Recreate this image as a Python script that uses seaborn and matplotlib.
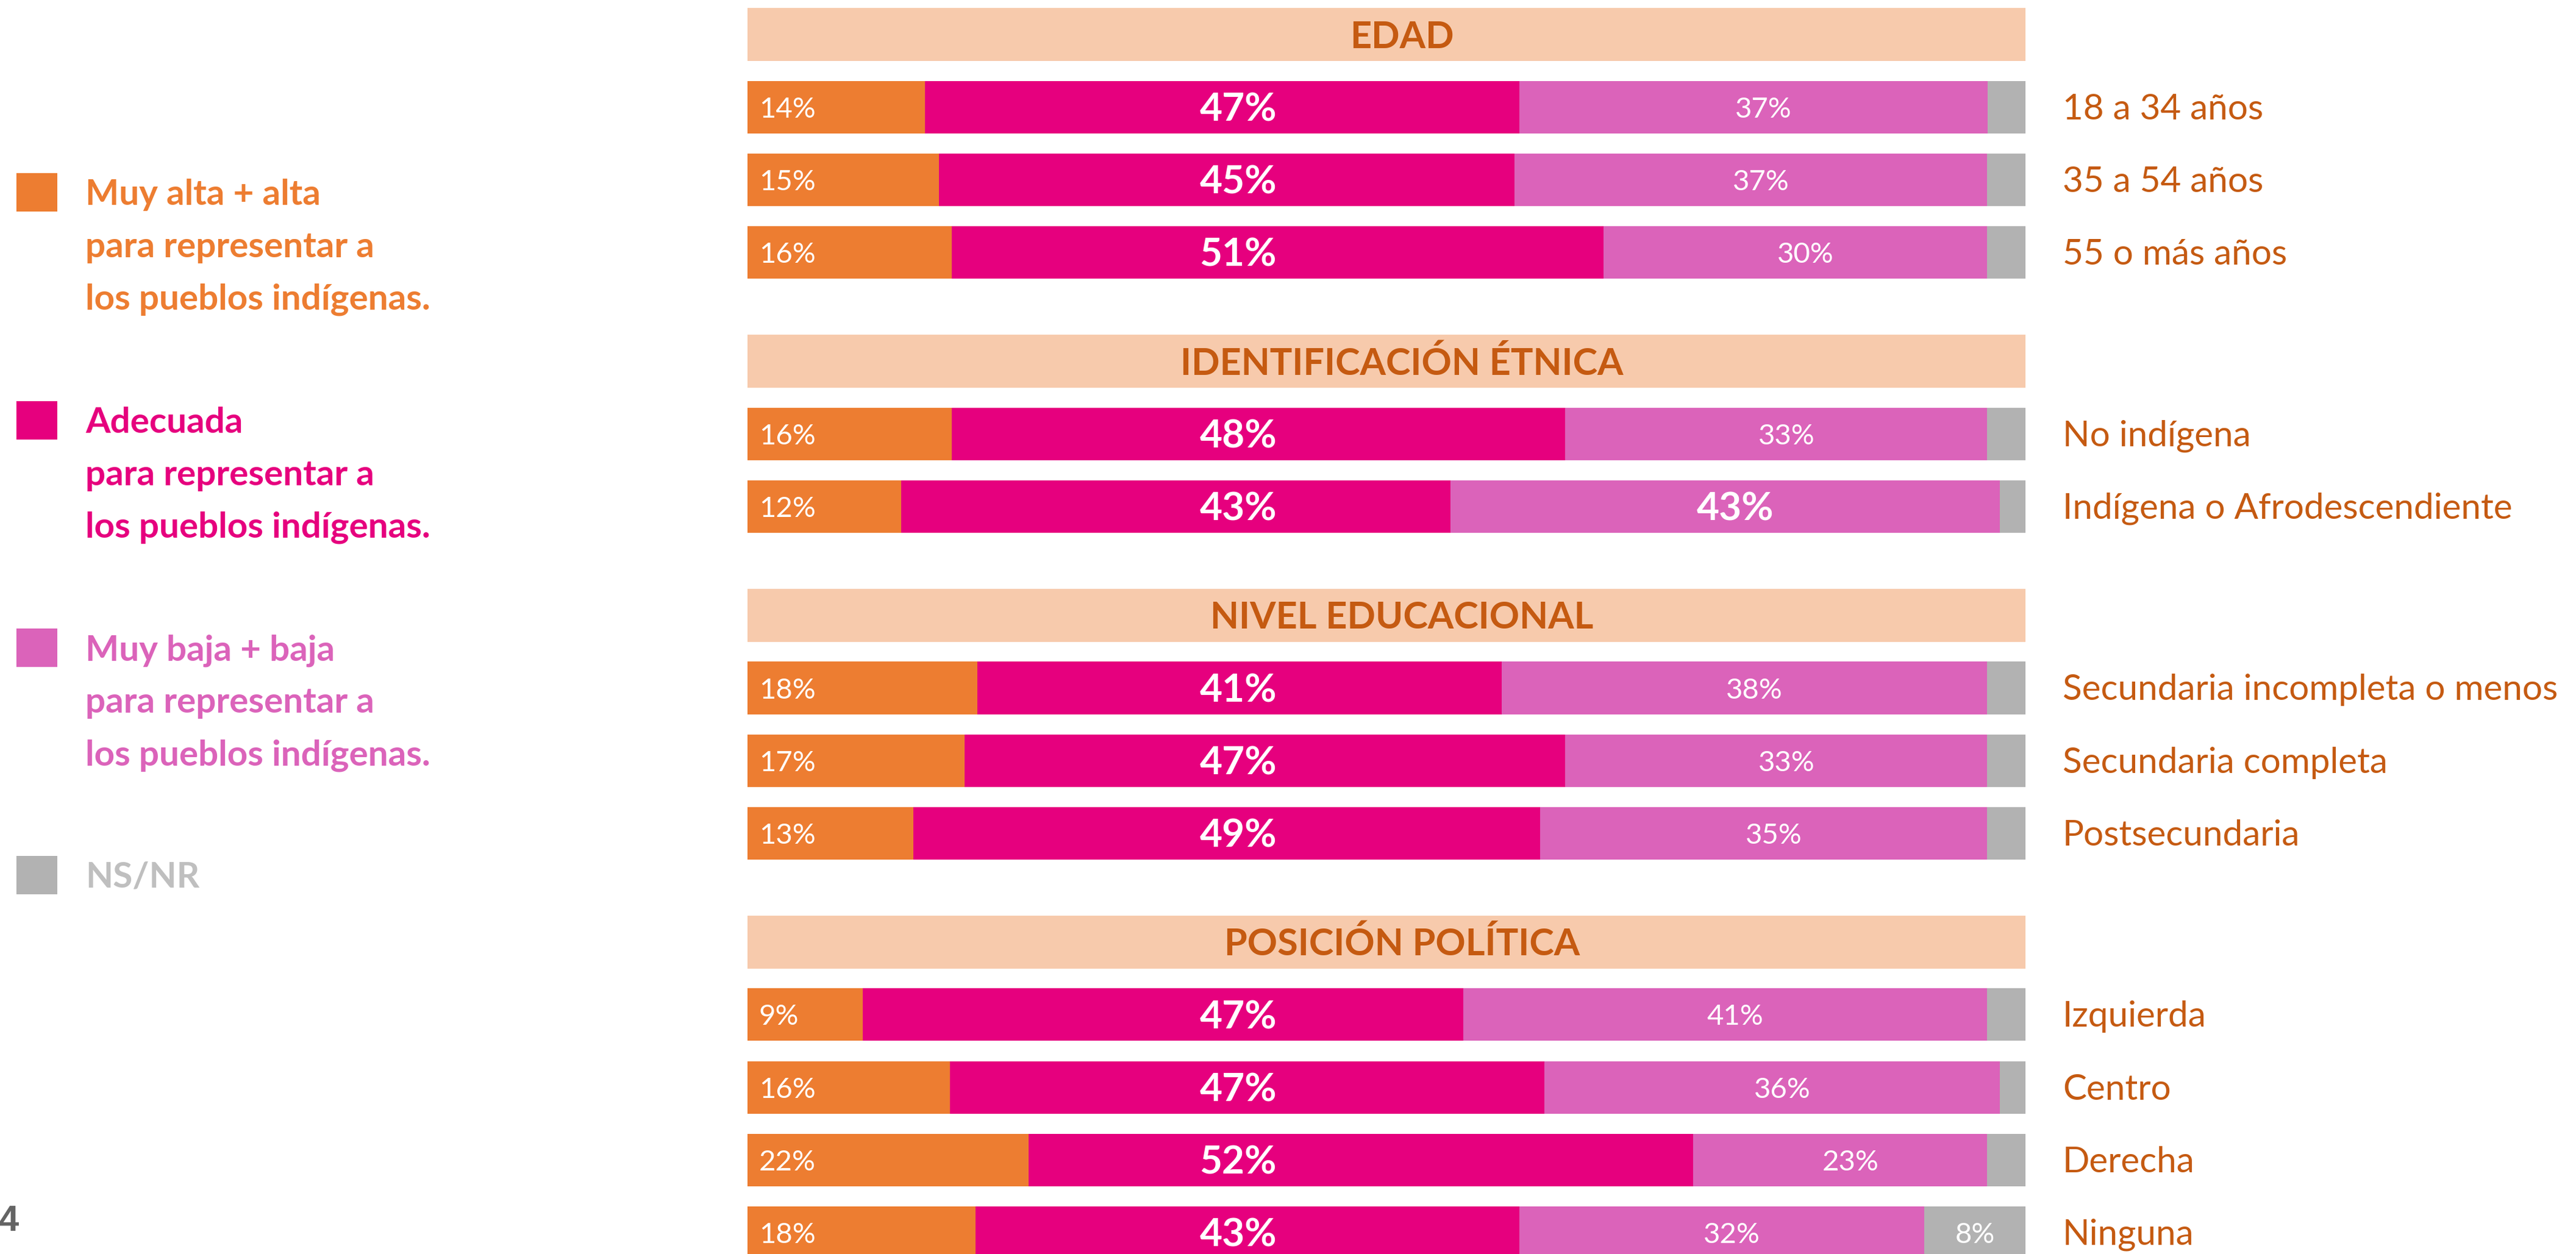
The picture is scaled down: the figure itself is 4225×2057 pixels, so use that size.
import numpy as np
import pandas as pd
import seaborn as sns
import matplotlib.pyplot as plt
from matplotlib.patches import Rectangle

# data
groups = ['EDAD', 'IDENTIFICACIÓN ÉTNICA', 'NIVEL EDUCACIONAL', 'POSICIÓN POLÍTICA']
group_sizes = [3, 2, 3, 4]
rows = ['18 a 34 años', '35 a 54 años', '55 o más años',
        'No indígena', 'Indígena o Afrodescendiente',
        'Secundaria incompleta o menos', 'Secundaria completa', 'Postsecundaria',
        'Izquierda', 'Centro', 'Derecha', 'Ninguna']
alta = [14, 15, 16, 16, 12, 18, 17, 13, 9, 16, 22, 18]
adecuada = [47, 45, 51, 48, 43, 41, 47, 49, 47, 47, 52, 43]
baja = [37, 37, 30, 33, 43, 38, 33, 35, 41, 36, 23, 32]
nsnr = [3, 3, 3, 3, 2, 3, 3, 3, 3, 2, 3, 8]

legend_labels = ['Muy alta + alta\npara representar a\nlos pueblos indígenas.',
                 'Adecuada\npara representar a\nlos pueblos indígenas.',
                 'Muy baja + baja\npara representar a\nlos pueblos indígenas.',
                 'NS/NR']
colors = ['#ED7D31', '#E6007E', '#DB63BA', '#B2B2B2']
header_bg = '#F7CAAC'
text_col = '#C55A11'

# row positions (header, bars, gap)
header_pos = []
bar_pos = []
y = 0
for n in group_sizes:
    header_pos.append(y)
    bar_pos += [y + 1 + i for i in range(n)]
    y = y + n + 1.5

df = pd.DataFrame({'row': rows, 'pos': bar_pos, 'alta': alta, 'adecuada': adecuada,
                   'baja': baja, 'nsnr': nsnr})
tot = df[['alta', 'adecuada', 'baja', 'nsnr']].sum(axis=1)
df['c1'] = df['alta'] / tot * 100
df['c2'] = (df['alta'] + df['adecuada']) / tot * 100
df['c3'] = (df['alta'] + df['adecuada'] + df['baja']) / tot * 100
df['c4'] = 100.0

W, H = 4225, 2057
fig = plt.figure(figsize=(W / 100, H / 100), dpi=100)
ax = fig.add_axes([1226 / W, 0, 2096 / W, 1])

pitch = 119.1  # px per slot
bar_h = 86 / pitch
for col, c in zip(['c4', 'c3', 'c2', 'c1'], colors[::-1]):
    sns.barplot(data=df, x=col, y='pos', orient='y', native_scale=True, color=c,
                saturation=1, width=bar_h, errorbar=None, linewidth=0, ax=ax)

ax.barh(header_pos, 100.3, height=87 / pitch, left=0, color=header_bg, linewidth=0)

ax.set_xlim(0, 100)
ax.set_ylim((H - 56.6) / pitch, -56.6 / pitch)
ax.axis('off')

def base(pos, size):
    return pos + size / 2 / pitch

font = 'Lato'
for i, r in df.iterrows():
    p = r['pos']
    ax.text(0.9, base(p, 34), f"{r['alta']}%", ha='left', va='baseline',
            fontsize=34, color='white', family=font)
    ax.text(38.4, base(p, 46), f"{r['adecuada']}%", ha='center', va='baseline',
            fontsize=46, color='white', family=font, fontweight='bold')
    big = r['baja'] >= r['adecuada']
    fs = 46 if big else 34
    ax.text((r['c2'] + r['c3']) / 2 + 0.8, base(p, fs), f"{r['baja']}%", ha='center',
            va='baseline', fontsize=fs, color='white', family=font,
            fontweight='bold' if big else 'normal')
    if r['nsnr'] >= 5:
        ax.text((r['c3'] + 100) / 2, base(p, 34), f"{r['nsnr']}%", ha='center',
                va='baseline', fontsize=34, color='white', family=font)
    ax.text(102.9, base(p, 40), r['row'], ha='left', va='baseline',
            fontsize=42, color=text_col, family=font)

for g, p in zip(groups, header_pos):
    ax.text(51.2, base(p, 44), g, ha='center', va='baseline', fontsize=44,
            color=text_col, family=font, fontweight='bold')

# legend on the left
sq_tops = [284, 658, 1031, 1404]
for lab, c, top in zip(legend_labels, colors, sq_tops):
    fig.patches.append(Rectangle((27 / W, 1 - (top + 63) / H), 67 / W, 63 / H,
                                 transform=fig.transFigure, color=c, linewidth=0))
    tc = '#BFBFBF' if lab == 'NS/NR' else c
    for k, line in enumerate(lab.split('\n')):
        yb = top + 31 + 21 + k * 86
        fig.text(140 / W, 1 - yb / H, line, ha='left', va='baseline', fontsize=42,
                 color=tc, family=font, fontweight='bold')

fig.text(-3 / W, 1 - 2019 / H, '4', ha='left', va='baseline', fontsize=43,
         color='#646464', family='Liberation Sans', fontweight='bold')

fig.savefig('out.png', dpi=100)
